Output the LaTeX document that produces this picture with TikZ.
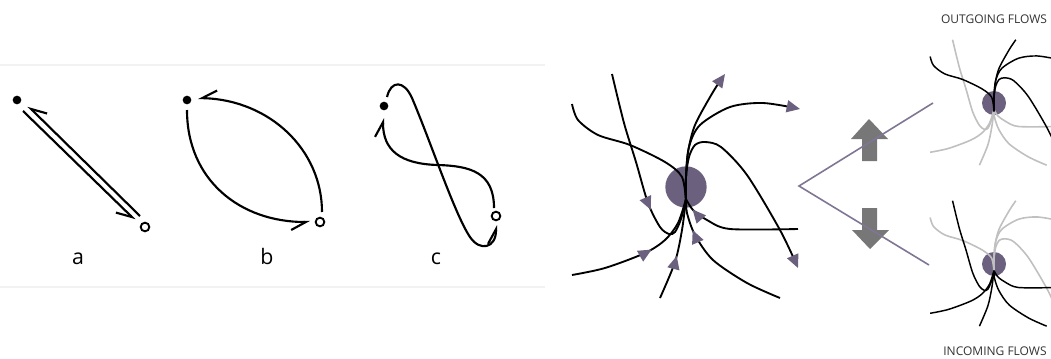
\documentclass[tikz,border=0pt]{standalone}
\usepackage{fontspec}
\setmainfont{Open Sans}
\usepackage{tikz}
\usetikzlibrary{arrows.meta, calc, decorations.markings}
\definecolor{hubpurple}{RGB}{107, 96, 126}
\definecolor{wedgeline}{RGB}{128, 118, 148}
\definecolor{blockgray}{RGB}{119, 119, 119}
\definecolor{fadegray}{RGB}{192, 192, 192}
\definecolor{rulegray}{RGB}{242, 242, 242}

% flow lines leaving the hub (plus the one from the upper left)
\newcommand{\outflows}[1]{%
  \draw[#1] plot[smooth] coordinates {(-114,-83) (-108,-67) (-88,-52) (-56,-42) (-21,-25) (-4,-10) (0,15)};
  \draw[#1, endtip] plot[smooth] coordinates {(0,15) (0,-10) (2,-35) (9,-62) (27,-95) (39,-113)};
  \draw[#1, endtip] plot[smooth] coordinates {(0,15) (0,-10) (3,-40) (14,-62) (44,-80) (77,-84) (114,-78)};
  \draw[#1, endtip] plot[smooth] coordinates {(0,15) (0,-10) (3,-30) (9,-42) (19,-45) (35,-40) (61,-12) (94,43) (112,81)};
}
% flow lines entering the hub
\newcommand{\inflows}[1]{%
  \draw[#1, midtip=0.66] plot[smooth] coordinates {(-74,-113) (-62,-64) (-50,-25) (-38,16) (-26,40) (-17,47) (-11,45) (-5,32) (0,12)};
  \draw[#1, midtip=0.57] plot[smooth] coordinates {(-114,88) (-81,81) (-41,66) (-21,53) (-8,36) (0,12)};
  \draw[#1, midtip=0.44] plot[smooth] coordinates {(-26,111) (-11,75) (-4,43) (0,12)};
  \draw[#1, midtip=0.78] plot[smooth] coordinates {(94,111) (61,96) (27,73) (9,48) (1,26) (0,12)};
  \draw[#1, midtip=0.90] plot[smooth] coordinates {(112,42) (44,42) (21,33) (7,23) (0,12)};
}

\begin{document}
\begin{tikzpicture}[
  x=0.75pt, y=-0.75pt,
  dotnode/.style={circle, fill=black, inner sep=0pt, minimum size=6.5pt},
  ringnode/.style={circle, draw=black, line width=1.4pt, inner sep=0pt, minimum size=6.5pt},
  letter/.style={font=\fontsize{16}{19}\selectfont, anchor=base, inner sep=0pt},
  flowlabel/.style={font=\fontsize{9}{10.5}\selectfont, text=black!80, inner sep=0pt},
  pathline/.style={line width=1.6pt},
  harpr/.style={-{Straight Barb[right, length=11pt, width=12pt]}},
  harpl/.style={-{Straight Barb[left, length=11pt, width=12pt]}},
  hub/.style={circle, fill=hubpurple, inner sep=0pt, minimum size=31pt},
  flow/.style={draw=black, line width=1.4pt},
  fade/.style={draw=fadegray, line width=1.2pt},
  endtip/.style={-{Triangle[length=10pt, width=9pt, color=hubpurple]}},
  midtip/.style={postaction={decorate, decoration={markings,
      mark=at position #1 with {\arrow{Triangle[length=10pt, width=9pt, color=hubpurple]}}}}},
  wedge/.style={draw=wedgeline, line width=1.2pt}
]
\useasboundingbox (0,0) rectangle (1051,358);

% left panel rules
\draw[rulegray, line width=0.8pt] (0,65) -- (545,65);
\draw[rulegray, line width=0.8pt] (0,287) -- (545,287);

% a
\node[dotnode] (dotA) at (17,100) {};
\node[ringnode] (ringA) at (145,227) {};
\draw[pathline, harpr] ($(ringA)+(-5,-11)$) -- ($(dotA)+(11,6)$);
\draw[pathline, harpr] ($(dotA)+(6,11)$) -- ($(ringA)+(-10,-7)$);
\node[letter] (labA) at (78,264) {a};

% b
\node[dotnode] (dotB) at (187,100) {};
\node[ringnode] (ringB) at (320,222) {};
\draw[pathline, harpr] ($(ringB)+(2,-10)$) .. controls (322,150) and (270,100) .. ($(dotB)+(11,-2)$);
\draw[pathline, harpr] ($(dotB)+(0,10)$) .. controls (187,180) and (240,222) .. ($(ringB)+(-10,0)$);
\node[letter] (labB) at (267,264) {b};

% c
\node[dotnode] (dotC) at (384,106) {};
\node[ringnode] (ringC) at (496,216) {};
\draw[pathline, harpl] ($(ringC)+(-2,-8)$) .. controls (494,172) and (470,166) .. (438,165)
  .. controls (400,164) and (383,150) .. ($(dotC)+(-1,12)$);
\draw[pathline, harpl] ($(dotC)+(3,-9)$) .. controls (391,80) and (404,80) .. (412,98)
  .. controls (430,140) and (455,215) .. (470,237)
  .. controls (480,252) and (496,248) .. ($(ringC)+(0,9)$);
\node[letter] (labC) at (436,264) {c};

% big hub
\node[hub] (hub) at (686,187) {};
\begin{scope}[shift={(hub.center)}]
  \inflows{flow}
  \outflows{flow}
\end{scope}

% split
\fill[blockgray] (869,119) -- (888,139) -- (877,139) -- (877,161) -- (862,161) -- (862,139) -- (851,139) -- cycle;
\fill[blockgray] (870,249) -- (889,230) -- (877,230) -- (877,208) -- (862,208) -- (862,230) -- (852,230) -- cycle;
\coordinate (fork) at (799,186);
\coordinate (forkup) at (933,103);
\coordinate (forkdown) at (929,265);
\draw[wedge] (forkup) -- (fork) -- (forkdown);

% outgoing
\begin{scope}
  \clip (900,0) rectangle (1051,358);
  \node[hub, minimum size=18pt] (hubout) at (994,103) {};
  \begin{scope}[shift={(hubout.center)}, scale=0.56, endtip/.style={}, midtip/.style={}, flow/.append style={line width=1.1pt}]
    \inflows{fade}
    \outflows{flow}
  \end{scope}
  \node[hub, minimum size=18pt] (hubin) at (994,264) {};
  \begin{scope}[shift={(hubin.center)}, scale=0.56, endtip/.style={}, midtip/.style={}, flow/.append style={line width=1.1pt}]
    \outflows{fade}
    \inflows{flow}
  \end{scope}
\end{scope}
\node[flowlabel] (outlbl) at (994,19) {OUTGOING FLOWS};
\node[flowlabel] (inlbl) at (995,351) {INCOMING FLOWS};

\end{tikzpicture}
\end{document}
